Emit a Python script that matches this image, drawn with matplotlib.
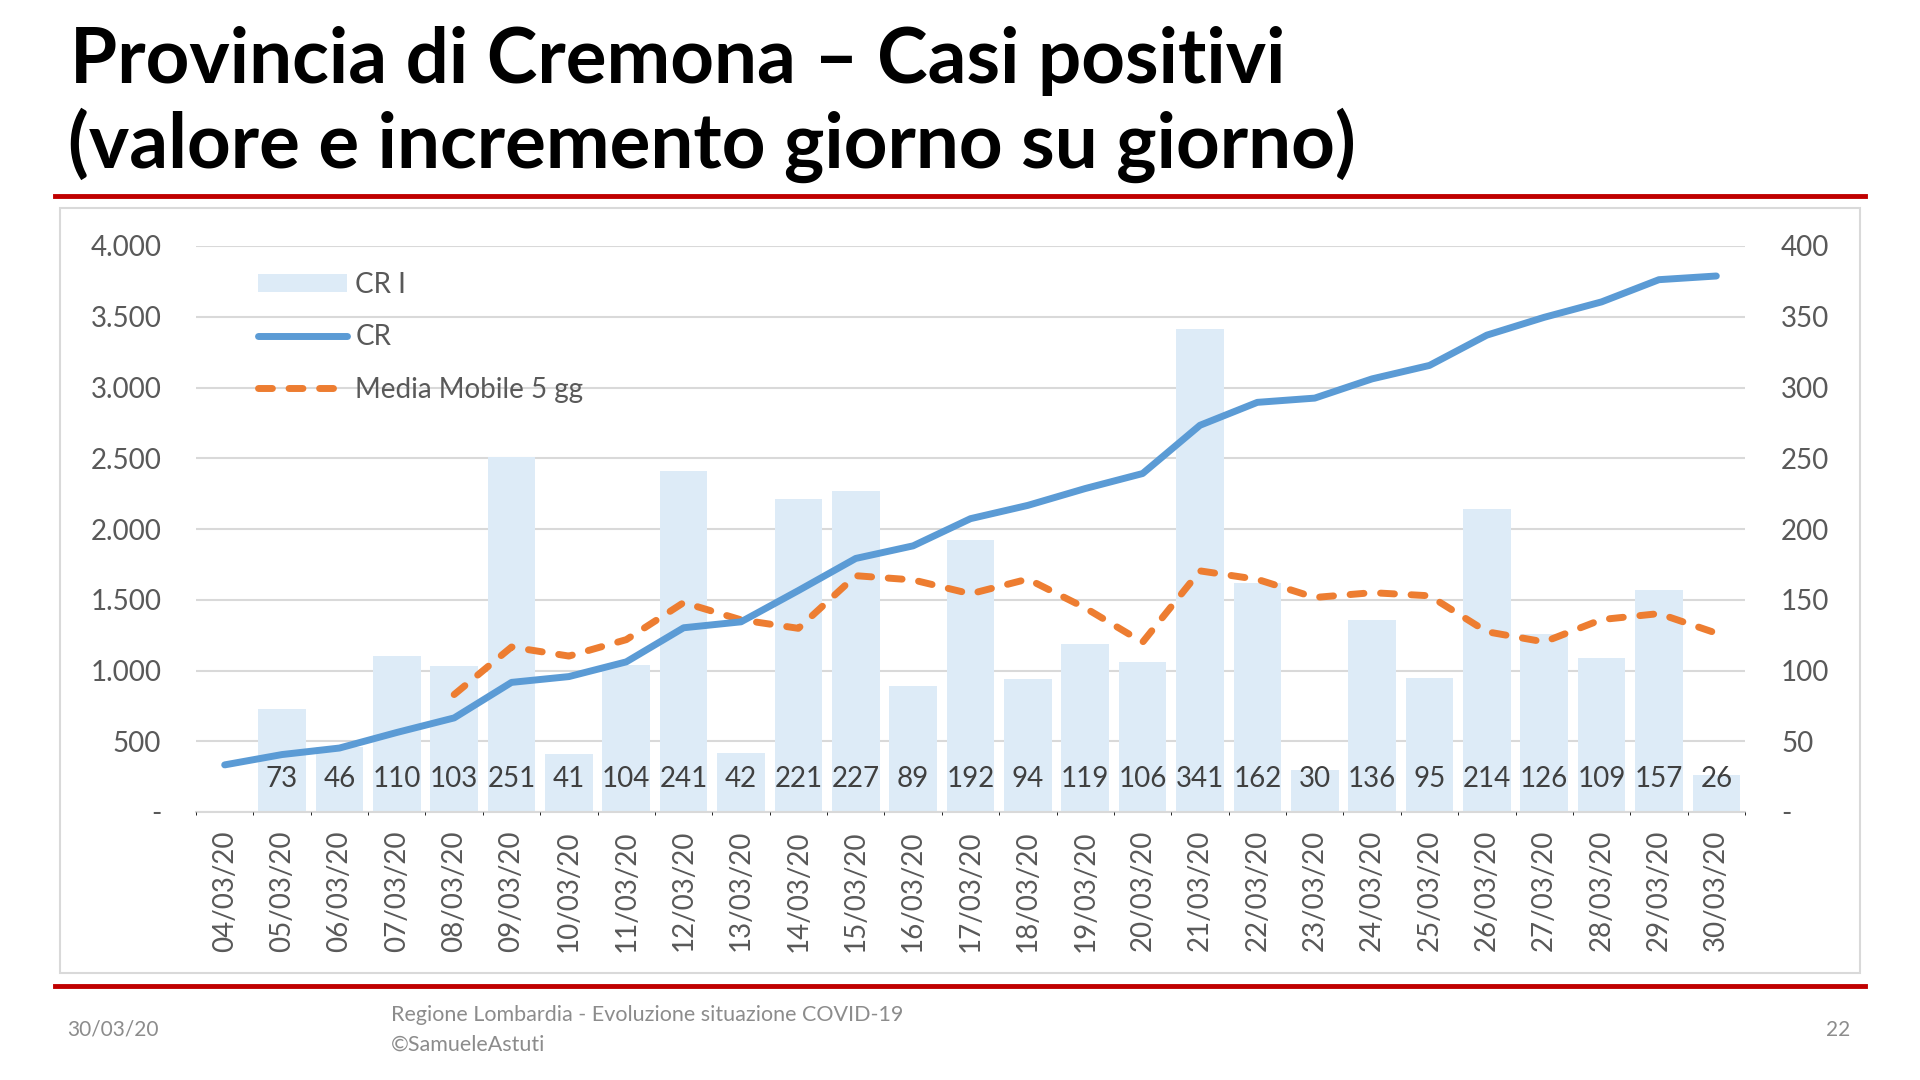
import numpy as np
import matplotlib.pyplot as plt
from matplotlib.lines import Line2D
from matplotlib.patches import Rectangle
from matplotlib.ticker import FuncFormatter

plt.rcParams['font.family'] = ['Lato', 'DejaVu Sans']

# Dati
date = ['04/03/20', '05/03/20', '06/03/20', '07/03/20', '08/03/20', '09/03/20',
        '10/03/20', '11/03/20', '12/03/20', '13/03/20', '14/03/20', '15/03/20',
        '16/03/20', '17/03/20', '18/03/20', '19/03/20', '20/03/20', '21/03/20',
        '22/03/20', '23/03/20', '24/03/20', '25/03/20', '26/03/20', '27/03/20',
        '28/03/20', '29/03/20', '30/03/20']
# totale casi positivi (asse sinistro)
cr = [333, 406, 452, 562, 665, 916, 957, 1061, 1302, 1344, 1565, 1792, 1881,
      2073, 2167, 2286, 2392, 2733, 2895, 2925, 3061, 3156, 3370, 3496, 3605,
      3762, 3788]
# incremento giornaliero (asse destro), dal 05/03
cr_inc = [73, 46, 110, 103, 251, 41, 104, 241, 42, 221, 227, 89, 192, 94, 119,
          106, 341, 162, 30, 136, 95, 214, 126, 109, 157, 26]
# media mobile 5 gg (asse destro), dal 08/03
media_mobile = [83, 116.6, 110.2, 121.8, 148, 135.8, 129.8, 167, 164, 154.2,
                164.6, 144.2, 120, 170.4, 164.4, 151.6, 155, 152.8, 127.4,
                120.2, 136, 140.2, 126.4]

W, H = 1920, 1080
fig = plt.figure(figsize=(19.2, 10.8), dpi=100)

grigio = '#595959'
blu = '#5B9BD5'
arancio = '#ED7D31'
azzurro = '#DDEBF7'
rosso = '#C00000'

# cornice del grafico
fig.add_artist(Rectangle((60 / W, 1 - 973 / H), 1800 / W, 765 / H,
                         transform=fig.transFigure, fill=False,
                         edgecolor='#D9D9D9', linewidth=1.5))
# linee rosse
fig.add_artist(Line2D([55 / W, 1865 / W], [1 - 196 / H, 1 - 196 / H],
                      color=rosso, linewidth=3.5))
fig.add_artist(Line2D([55 / W, 1865 / W], [1 - 986 / H, 1 - 986 / H],
                      color=rosso, linewidth=3.5))

# titolo
fig.text(70 / W, 1 - 83 / H, 'Provincia di Cremona – Casi positivi',
         fontsize=55, fontweight='bold', color='black', va='baseline')
fig.text(68 / W, 1 - 168 / H, '(valore e incremento giorno su giorno)',
         fontsize=55, fontweight='bold', color='black', va='baseline')

# piè di pagina
fig.text(67 / W, 1 - 1030 / H, '30/03/20', fontsize=15, color='#8C8C8C', va='center')
fig.text(391 / W, 1 - 1015 / H, 'Regione Lombardia - Evoluzione situazione COVID-19',
         fontsize=15.5, color='#8C8C8C', va='center')
fig.text(391 / W, 1 - 1045 / H, '©SamueleAstuti', fontsize=15.5, color='#8C8C8C', va='center')
fig.text(1850 / W, 1 - 1030 / H, '22', fontsize=15, color='#8C8C8C', va='center', ha='right')

ax = fig.add_axes([196 / W, 1 - 812 / H, (1745 - 196) / W, (812 - 246) / H])
ax2 = ax.twinx()
ax.set_zorder(ax2.get_zorder() + 1)
ax.patch.set_visible(False)

x = np.arange(len(date))
x_inc = x[1:]
x_mm = x[4:]

# barre + griglia + media mobile sull'asse destro
ax2.set_axisbelow(True)
ax2.grid(axis='y', color='#D9D9D9', linewidth=1.5)
bars = ax2.bar(x_inc, cr_inc, width=0.83, color=azzurro, label='CR I', zorder=2)
for xi, v in zip(x_inc, cr_inc):
    ax2.text(xi, 23, str(v), ha='center', va='center', fontsize=20,
             color='#404040', zorder=4)
mm_line, = ax2.plot(x_mm, media_mobile, color=arancio, linewidth=5,
                    dashes=(2.0, 2.4), dash_capstyle='round',
                    label='Media Mobile 5 gg', zorder=3)

# totale sull'asse sinistro
cr_line, = ax.plot(x, cr, color=blu, linewidth=5, solid_capstyle='round',
                   solid_joinstyle='round', label='CR')

ax.set_xlim(-0.5, len(date) - 0.5)
ax.set_ylim(0, 4000)
ax2.set_ylim(0, 400)
ax.set_yticks(np.arange(0, 4001, 500))
ax2.set_yticks(np.arange(0, 401, 50))

fmt_sx = FuncFormatter(lambda v, p: '-' if v == 0 else f'{int(v):,}'.replace(',', '.'))
fmt_dx = FuncFormatter(lambda v, p: '-' if v == 0 else f'{int(v)}')
ax.yaxis.set_major_formatter(fmt_sx)
ax2.yaxis.set_major_formatter(fmt_dx)

for a in (ax, ax2):
    for s in a.spines.values():
        s.set_visible(False)
ax2.spines['bottom'].set_visible(True)
ax2.spines['bottom'].set_color('#D9D9D9')
ax2.spines['bottom'].set_linewidth(1.5)

ax.tick_params(axis='y', length=0, labelsize=20, labelcolor=grigio, pad=25)
ax2.tick_params(axis='y', length=0, labelsize=20, labelcolor=grigio, pad=26)

ax.set_xticks(x)
ax.set_xticklabels(date, rotation=90)
ax.tick_params(axis='x', which='major', length=0, labelsize=20,
               labelcolor=grigio, pad=13)
ax2.set_xticks(np.arange(-0.5, len(date)), minor=True)
ax2.tick_params(axis='x', which='minor', length=10, width=1.5,
                color='#D9D9D9', direction='out')
ax2.tick_params(axis='x', which='major', length=0, labelbottom=False)

fig.legend(handles=[bars, cr_line, mm_line],
           labels=['CR I', 'CR', 'Media Mobile 5 gg'],
           loc='upper left', bbox_to_anchor=(258 / W, 1 - 272 / H),
           frameon=False, fontsize=20, labelcolor=grigio,
           handlelength=3.2, handleheight=0.6, handletextpad=0.3,
           labelspacing=0.95, borderpad=0, borderaxespad=0)

fig.savefig('out.png', dpi=100)
